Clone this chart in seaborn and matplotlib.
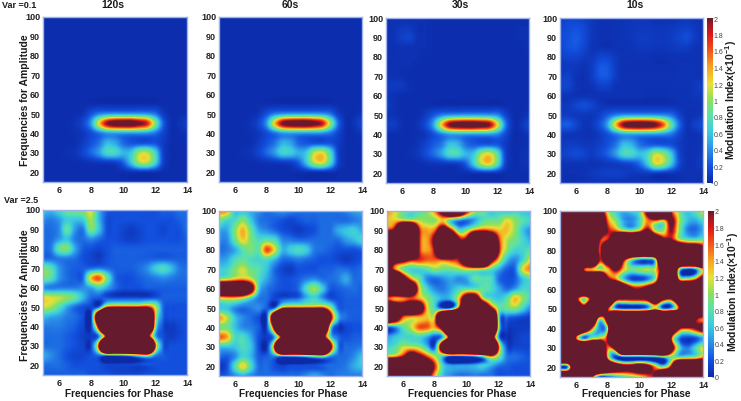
import numpy as np
import pandas as pd
import matplotlib
matplotlib.use("Agg")
import matplotlib.pyplot as plt
from matplotlib.colors import LinearSegmentedColormap
import seaborn as sns

# frequencies for phase (columns) and amplitude (rows, top first)
phase_freqs = [5, 5.5, 6, 6.5, 7, 7.5, 8, 8.5, 9, 9.5, 10, 10.5, 11, 11.5, 12, 12.5, 13, 13.5, 14]
amp_freqs = [100, 95, 90, 85, 80, 75, 70, 65, 60, 55, 50, 45, 40, 35, 30, 25, 20, 15]

x_ticks = [6, 8, 10, 12, 14]
y_ticks = [20, 30, 40, 50, 60, 70, 80, 90, 100]
cbar_ticks = [0, 0.2, 0.4, 0.6, 0.8, 1, 1.2, 1.4, 1.6, 1.8, 2]
titles = ["120s", "60s", "30s", "10s"]

var01_120s = [
    [.03, .03, .03, .03, .03, .03, .03, .03, .03, .03, .03, .03, .03, .03, .03, .03, .03, .03, .03],
    [.03, .03, .03, .03, .03, .03, .03, .03, .03, .03, .03, .03, .03, .03, .03, .03, .03, .03, .03],
    [.03, .03, .03, .03, .03, .03, .03, .03, .03, .03, .03, .03, .03, .03, .03, .03, .03, .03, .03],
    [.03, .03, .03, .03, .03, .03, .03, .03, .03, .03, .03, .03, .03, .03, .03, .03, .03, .03, .03],
    [.03, .03, .03, .03, .03, .03, .03, .03, .03, .03, .03, .03, .03, .03, .03, .03, .03, .03, .03],
    [.03, .03, .03, .03, .03, .03, .03, .03, .03, .03, .03, .03, .03, .03, .03, .03, .03, .03, .03],
    [.03, .03, .03, .03, .03, .03, .03, .03, .03, .03, .03, .03, .03, .03, .03, .03, .03, .03, .03],
    [.03, .03, .03, .03, .03, .03, .03, .03, .03, .03, .03, .03, .03, .03, .03, .03, .03, .03, .03],
    [.03, .03, .03, .03, .03, .03, .03, .03, .03, .03, .03, .03, .03, .03, .03, .03, .03, .03, .03],
    [.03, .03, .03, .03, .03, .03, .03, .03, .03, .03, .03, .03, .03, .03, .03, .03, .03, .03, .03],
    [.03, .03, .03, .03, .03, .06, .20, .35, .42, .45, .45, .45, .45, .42, .32, .10, .03, .03, .04],
    [.03, .03, .03, .03, .06, .16, .45, 1.25, 1.95, 2.2, 2.25, 2.25, 2.05, 1.8, 1.0, .28, .04, .05, .10],
    [.03, .03, .03, .03, .04, .08, .18, .32, .45, .48, .46, .45, .45, .42, .32, .15, .03, .03, .05],
    [.03, .03, .03, .03, .04, .10, .20, .32, .55, .50, .30, .22, .20, .20, .20, .10, .03, .03, .03],
    [.03, .03, .03, .04, .06, .15, .28, .45, .72, .72, .55, .62, 1.05, 1.1, .72, .14, .03, .03, .03],
    [.03, .03, .03, .03, .03, .04, .06, .08, .10, .12, .25, .60, 1.05, 1.1, .72, .15, .03, .03, .03],
    [.03, .03, .03, .03, .03, .03, .03, .03, .03, .03, .03, .05, .05, .05, .05, .03, .03, .03, .03],
    [.03, .03, .03, .03, .03, .03, .03, .03, .03, .03, .03, .03, .03, .03, .03, .03, .03, .03, .03],
]
var01_60s = [
    [.03, .03, .03, .03, .03, .03, .03, .03, .03, .03, .03, .03, .03, .03, .03, .03, .03, .03, .03],
    [.03, .03, .03, .03, .03, .03, .03, .03, .03, .03, .03, .03, .03, .03, .03, .03, .03, .03, .03],
    [.03, .03, .03, .03, .03, .03, .03, .03, .03, .03, .03, .03, .03, .03, .03, .03, .03, .03, .03],
    [.03, .03, .03, .03, .03, .03, .03, .03, .03, .03, .03, .03, .03, .03, .03, .03, .03, .03, .03],
    [.03, .03, .03, .03, .03, .03, .03, .03, .03, .03, .03, .03, .03, .03, .03, .03, .03, .03, .03],
    [.03, .03, .03, .03, .03, .03, .03, .03, .03, .03, .03, .03, .03, .03, .03, .03, .03, .03, .03],
    [.03, .03, .03, .03, .03, .03, .03, .03, .03, .03, .03, .03, .03, .03, .03, .03, .03, .03, .03],
    [.03, .03, .03, .03, .03, .03, .03, .03, .03, .03, .03, .03, .03, .03, .03, .03, .03, .03, .03],
    [.03, .03, .03, .03, .03, .03, .03, .03, .03, .03, .03, .03, .03, .03, .03, .03, .03, .03, .03],
    [.03, .03, .03, .03, .03, .03, .03, .03, .03, .03, .03, .03, .03, .03, .03, .03, .03, .03, .03],
    [.03, .03, .03, .03, .03, .06, .20, .35, .42, .45, .45, .45, .45, .42, .32, .10, .03, .03, .06],
    [.03, .03, .03, .03, .06, .16, .45, 1.3, 2.0, 2.2, 2.25, 2.25, 2.1, 1.85, 1.05, .30, .04, .06, .15],
    [.03, .03, .03, .03, .04, .08, .18, .32, .45, .48, .46, .45, .45, .42, .32, .15, .03, .03, .06],
    [.03, .03, .03, .03, .04, .10, .20, .32, .52, .48, .28, .22, .20, .20, .20, .10, .03, .03, .03],
    [.03, .03, .03, .04, .06, .15, .28, .45, .68, .65, .52, .62, 1.1, 1.2, .75, .14, .03, .03, .03],
    [.03, .03, .03, .03, .03, .04, .06, .08, .10, .12, .25, .60, 1.1, 1.2, .75, .15, .03, .03, .03],
    [.03, .03, .03, .03, .03, .03, .03, .03, .03, .03, .03, .05, .05, .05, .05, .03, .03, .03, .03],
    [.03, .03, .03, .03, .03, .03, .03, .03, .03, .03, .03, .03, .03, .03, .03, .03, .03, .03, .03],
]
var01_30s = [
    [.04, .04, .04, .04, .04, .04, .03, .03, .03, .03, .03, .03, .03, .03, .03, .03, .03, .03, .03],
    [.04, .05, .08, .08, .04, .04, .03, .03, .03, .03, .03, .03, .03, .03, .03, .03, .03, .04, .04],
    [.04, .06, .12, .14, .05, .04, .03, .03, .03, .03, .03, .03, .03, .03, .03, .03, .03, .04, .04],
    [.04, .04, .05, .05, .04, .04, .03, .03, .03, .03, .03, .03, .03, .03, .03, .03, .03, .03, .04],
    [.04, .04, .04, .04, .04, .03, .03, .03, .03, .03, .03, .03, .03, .03, .03, .03, .03, .03, .03],
    [.04, .04, .04, .04, .03, .03, .03, .03, .03, .03, .03, .03, .03, .03, .03, .03, .03, .03, .03],
    [.06, .05, .04, .03, .03, .03, .03, .03, .03, .03, .03, .03, .03, .03, .03, .03, .03, .03, .03],
    [.09, .09, .08, .04, .03, .03, .03, .03, .03, .03, .03, .03, .03, .03, .03, .03, .03, .03, .03],
    [.06, .05, .03, .03, .03, .03, .03, .03, .03, .03, .03, .03, .03, .03, .03, .03, .03, .03, .03],
    [.10, .05, .03, .03, .03, .03, .03, .03, .03, .03, .03, .03, .03, .03, .03, .03, .03, .03, .03],
    [.05, .05, .03, .03, .03, .10, .22, .36, .44, .46, .48, .48, .48, .46, .40, .16, .03, .03, .06],
    [.12, .10, .04, .03, .06, .18, .50, 1.3, 2.0, 2.2, 2.25, 2.25, 2.15, 2.0, 1.25, .38, .05, .06, .15],
    [.04, .03, .03, .03, .04, .08, .20, .34, .46, .48, .46, .45, .45, .44, .38, .18, .03, .03, .06],
    [.03, .03, .03, .03, .06, .14, .24, .34, .58, .55, .32, .24, .22, .22, .22, .10, .03, .03, .04],
    [.03, .03, .03, .04, .08, .18, .30, .48, .74, .74, .55, .60, 1.05, 1.2, .82, .16, .03, .04, .06],
    [.03, .03, .03, .03, .03, .05, .07, .08, .10, .12, .24, .62, 1.1, 1.25, .82, .16, .03, .04, .06],
    [.03, .03, .03, .03, .03, .03, .03, .03, .03, .03, .03, .05, .06, .06, .05, .03, .03, .03, .03],
    [.03, .03, .03, .03, .03, .03, .03, .03, .03, .03, .03, .03, .03, .03, .03, .03, .03, .03, .03],
]
var01_10s = [
    [.12, .14, .14, .12, .08, .05, .04, .05, .06, .07, .07, .07, .05, .05, .05, .06, .08, .06, .05],
    [.15, .18, .20, .16, .08, .05, .04, .05, .06, .07, .08, .08, .07, .07, .08, .10, .12, .08, .05],
    [.16, .20, .24, .18, .08, .05, .04, .05, .06, .07, .10, .10, .08, .08, .10, .14, .18, .10, .05],
    [.16, .20, .22, .15, .06, .05, .04, .05, .05, .06, .08, .08, .07, .07, .08, .10, .10, .06, .05],
    [.12, .14, .14, .10, .08, .14, .14, .08, .05, .05, .05, .05, .04, .04, .05, .05, .05, .05, .05],
    [.07, .08, .08, .05, .10, .22, .22, .10, .05, .04, .04, .04, .04, .04, .04, .05, .05, .05, .05],
    [.10, .12, .06, .04, .10, .22, .22, .10, .05, .05, .05, .05, .05, .05, .05, .06, .06, .06, .05],
    [.14, .14, .06, .04, .06, .12, .12, .06, .05, .05, .05, .05, .05, .05, .05, .05, .05, .08, .12],
    [.06, .06, .05, .05, .05, .05, .05, .05, .05, .05, .05, .04, .04, .04, .05, .05, .05, .07, .08],
    [.08, .08, .14, .18, .14, .07, .05, .05, .05, .05, .05, .05, .05, .05, .05, .05, .05, .05, .05],
    [.10, .10, .08, .08, .07, .12, .24, .36, .44, .46, .46, .46, .44, .40, .32, .14, .05, .05, .08],
    [.22, .24, .15, .06, .08, .20, .50, 1.3, 2.0, 2.2, 2.25, 2.2, 2.05, 1.6, .85, .30, .06, .12, .18],
    [.08, .07, .06, .05, .05, .10, .20, .34, .46, .48, .46, .45, .44, .40, .32, .15, .05, .05, .08],
    [.08, .10, .10, .08, .08, .12, .20, .32, .56, .52, .32, .24, .22, .20, .18, .10, .05, .05, .06],
    [.12, .14, .17, .14, .10, .16, .26, .45, .72, .72, .58, .72, 1.1, 1.0, .62, .16, .05, .05, .08],
    [.06, .06, .06, .06, .05, .06, .08, .10, .14, .18, .30, .62, 1.15, 1.05, .62, .18, .05, .06, .10],
    [.04, .04, .04, .05, .08, .10, .12, .12, .10, .08, .08, .10, .10, .08, .07, .05, .05, .05, .05],
    [.06, .03, .04, .04, .05, .06, .05, .05, .05, .05, .05, .05, .05, .05, .04, .04, .05, .05, .05],
]
var25_120s = [
    [.60, .55, .70, .90, .95, 1.0, 1.2, .55, .25, .20, .20, .20, .20, .20, .20, .25, .25, .30, .30],
    [.40, .35, .45, .65, .60, .65, 1.05, .55, .20, .20, .20, .20, .20, .20, .20, .20, .20, .25, .30],
    [.30, .30, .40, .85, .45, .35, .95, .60, .20, .20, .15, .10, .15, .20, .20, .15, .20, .20, .30],
    [.30, .30, .45, .60, .35, .30, .40, .30, .20, .20, .15, .12, .15, .20, .20, .20, .20, .20, .25],
    [.30, .35, .85, .95, .50, .25, .20, .15, .20, .25, .25, .25, .25, .25, .25, .25, .25, .25, .25],
    [.30, .30, .35, .35, .30, .20, .15, .10, .20, .25, .25, .25, .25, .25, .25, .25, .25, .25, .25],
    [.95, .80, .45, .30, .25, .25, .30, .35, .30, .25, .25, .25, .30, .40, .62, .75, .58, .35, .30],
    [.95, .80, .45, .30, .25, .30, 1.3, 1.6, .90, .30, .20, .20, .25, .30, .35, .40, .35, .30, .30],
    [.40, .35, .35, .35, .35, .40, .50, .70, .50, .30, .20, .20, .20, .25, .25, .25, .25, .25, .25],
    [1.2, 1.15, 1.1, 1.0, .85, .55, .30, .25, .20, .15, .15, .15, .15, .15, .20, .25, .25, .25, .25],
    [1.15, 1.05, .80, .50, .30, .20, .15, .30, 1.7, 1.9, 1.9, 1.9, 1.9, 1.9, 1.2, .30, .20, .20, .20],
    [.60, .50, .45, .35, .30, .20, .10, 4.0, 9.0, 9.0, 9.0, 9.0, 9.0, 7.0, 1.5, .30, .20, .20, .20],
    [.35, .35, .35, .30, .25, .15, .10, 2.5, 9.0, 9.0, 9.0, 9.0, 9.0, 7.0, 1.2, .20, .10, .15, .20],
    [.30, .30, .30, .25, .20, .12, .10, .40, 2.6, 9.0, 9.0, 9.0, 9.0, 3.0, .60, .20, .10, .15, .20],
    [.30, .30, .30, .25, .20, .15, .15, 2.0, 9.0, 9.0, 9.0, 9.0, 9.0, 9.0, 2.0, .30, .20, .20, .20],
    [.50, .40, .30, .20, .15, .15, .20, .30, .35, .40, .45, .60, .90, 1.1, .40, .25, .20, .20, .20],
    [.30, .30, .30, .25, .20, .20, .20, .20, .15, .15, .15, .15, .15, .20, .20, .20, .20, .20, .20],
    [.25, .25, .25, .25, .25, .25, .20, .20, .20, .15, .15, .15, .15, .20, .20, .20, .20, .20, .20],
]
var25_60s = [
    [1.5, 1.4, .60, .60, .50, .40, .30, .35, .40, .35, .30, .30, .30, .30, .30, .30, .35, .45, .50],
    [.90, .70, .75, 1.0, .65, .35, .30, .25, .20, .15, .20, .25, .25, .30, .30, .30, .30, .35, .40],
    [.50, .50, .95, 1.35, .90, .50, .40, .30, .20, .15, .10, .15, .20, .30, .30, .50, .60, .65, .50],
    [.40, .40, .85, 1.25, .95, .75, .85, .75, .40, .35, .30, .30, .30, .30, .30, .30, .45, .55, .70],
    [.30, .35, .50, .80, .95, .85, 1.65, 1.2, .55, .65, .75, .65, .35, .30, .25, .20, .20, .20, .25],
    [.45, .50, .75, .85, .75, .70, .75, .55, .30, .30, .35, .30, .25, .20, .20, .15, .10, .15, .20],
    [.65, .70, .95, 1.15, .90, .80, .60, .30, .15, .10, .20, .20, .20, .25, .25, .30, .30, .25, .30],
    [1.0, 1.1, 1.3, 1.4, 1.2, .75, .50, .30, .20, .20, .25, .35, .40, .30, .30, .35, .50, .30, .30],
    [4.0, 4.0, 4.0, 4.0, 2.6, .70, .35, .25, .20, .20, .30, .75, 1.05, .65, .25, .25, .30, .30, .25],
    [1.2, 1.3, 1.3, 1.1, .70, .35, .30, .15, .20, .25, .30, .55, .70, .45, .20, .20, .25, .25, .25],
    [.60, .60, .40, .30, .35, .40, .25, .30, 1.7, 1.9, 1.9, 1.9, 1.9, 1.9, 1.1, .30, .25, .25, .25],
    [1.45, 1.1, .60, .40, .30, .20, .15, 4.0, 9.0, 9.0, 9.0, 9.0, 9.0, 8.0, 2.5, .60, .30, .25, .25],
    [.90, .90, .60, .40, .35, .25, .15, 2.5, 9.0, 9.0, 9.0, 9.0, 9.0, 6.0, 1.0, .10, .15, .20, .20],
    [1.6, 1.4, .75, .75, .50, .20, .10, .50, 2.8, 9.0, 9.0, 9.0, 9.0, 3.2, .80, .30, .20, .25, .25],
    [.60, .60, .60, .75, .60, .20, .05, 2.0, 9.0, 9.0, 9.0, 9.0, 9.0, 9.0, 2.6, .40, .30, .30, .35],
    [.30, .25, .40, .70, .55, .25, .25, .35, .35, .40, .45, .60, .80, .90, .40, .30, .30, .40, .60],
    [.05, .20, .75, 1.25, .75, .30, .30, .20, .15, .20, .20, .20, .20, .25, .30, .30, .35, .50, .60],
    [.20, .25, .40, .50, .40, .30, .30, .30, .30, .30, .30, .40, .50, .40, .30, .35, .35, .35, .35],
]
var25_30s = [
    [1.5, 1.2, .90, .70, .80, 1.0, 1.5, 2.6, 4.0, 3.5, 2.0, 1.1, .90, .60, .70, .60, .70, .60, .55],
    [1.3, 1.3, 1.4, 1.3, 1.1, 1.0, 1.0, 1.3, .70, .40, .30, .50, .80, .90, .90, 1.2, 1.0, .80, .70],
    [1.9, 2.5, 6.0, 6.0, 2.0, 1.4, 1.6, 3.0, 2.0, .80, 1.0, 1.6, 1.8, 1.6, 1.3, 1.3, 1.0, .60, .40],
    [6.0, 6.0, 6.0, 6.0, 2.0, 1.4, 2.5, 6.0, 5.0, 2.2, 2.6, 6.0, 6.0, 4.5, 1.8, 1.1, .90, .70, .50],
    [6.0, 6.0, 6.0, 6.0, 2.0, 1.4, 2.2, 6.0, 5.0, 2.2, 6.0, 6.0, 6.0, 6.0, 2.0, 1.0, .70, .70, .80],
    [4.0, 3.0, 2.6, 2.1, 1.8, 1.6, 1.6, 1.8, 1.9, 2.0, 4.0, 6.0, 6.0, 2.8, 1.3, .60, .40, .70, 1.2],
    [3.0, 1.6, .90, .70, .70, .80, 1.0, .90, .90, 1.0, 1.2, 1.2, 1.1, .80, .50, .25, .30, 1.2, 1.5],
    [6.0, 6.0, 3.0, 1.5, .90, .40, .30, .40, .50, .40, .50, .85, .80, .75, .30, .20, .25, .60, .80],
    [5.0, 5.0, 5.0, 4.0, 1.4, .70, .40, .35, .50, .70, .80, .80, .85, .75, .50, .30, .45, .70, .70],
    [1.7, 1.4, 1.5, 1.7, 1.4, 1.0, .70, .50, .60, 1.3, 3.0, 3.0, 1.2, .75, .60, .80, 1.3, 1.0, .70],
    [4.5, 3.5, 3.0, 3.5, 3.0, 1.3, .70, .20, .30, 2.0, 6.0, 6.0, 4.5, 2.2, .90, .90, 1.0, .70, .40],
    [4.0, 3.0, 1.6, 1.3, 1.3, 1.3, 1.5, 6.0, 9.0, 9.0, 9.0, 9.0, 9.0, 7.0, .80, .30, .20, .15, .10],
    [.20, .40, .80, 1.1, 1.6, 1.6, 1.4, 3.0, 9.0, 9.0, 9.0, 9.0, 9.0, 7.0, .90, .15, .10, .10, .10],
    [.45, .60, .70, .70, .70, .50, .20, .60, 3.0, 9.0, 9.0, 9.0, 9.0, 3.5, .40, .05, .10, .15, .15],
    [.70, .80, 1.1, 1.1, 1.0, .60, .30, 3.5, 9.0, 9.0, 9.0, 9.0, 9.0, 7.0, 1.6, .20, .15, .15, .15],
    [1.4, 1.5, 2.0, 3.0, 2.5, 1.7, 1.1, .60, .10, .10, .20, .40, .80, 1.5, .90, .35, .30, .25, .20],
    [6.0, 6.0, 6.0, 6.0, 6.0, 3.5, 1.8, .70, .50, .50, .50, .55, .65, .50, .30, .25, .20, .20, .20],
    [3.0, 4.0, 6.0, 6.0, 3.0, 2.5, 1.3, .60, .40, .30, .30, .35, .30, .30, .20, .20, .20, .20, .20],
]
var25_10s = [
    [6.0, 6.0, 6.0, 6.0, 6.0, 3.0, 1.2, .70, .50, .60, .90, 2.5, 6.0, 6.0, 2.0, 1.0, .60, .80, 1.2],
    [6.0, 6.0, 6.0, 6.0, 6.0, 4.0, 1.6, 1.0, .50, .40, .70, 1.5, 1.6, 1.3, 2.2, 1.1, .60, .50, .70],
    [6.0, 6.0, 6.0, 6.0, 6.0, 3.5, 2.0, 1.6, 1.2, 1.0, 1.4, 2.3, 1.1, 1.0, 2.0, 1.0, .40, .30, .50],
    [6.0, 6.0, 6.0, 6.0, 6.0, 2.0, 2.0, 4.0, 6.0, 6.0, 6.0, 6.0, 4.0, 2.5, 2.2, 1.3, 1.0, .90, 1.0],
    [6.0, 6.0, 6.0, 6.0, 6.0, 1.7, 6.0, 6.0, 6.0, 6.0, 6.0, 6.0, 6.0, 6.0, 6.0, 5.0, 4.0, 4.0, 3.0],
    [6.0, 6.0, 6.0, 6.0, 6.0, 1.9, 3.5, 5.0, 2.2, .90, .40, .35, 1.0, 6.0, 6.0, 6.0, 6.0, 6.0, 6.0],
    [6.0, 6.0, 6.0, 1.9, 1.4, 1.1, 1.3, 2.2, 1.3, .90, 1.0, 1.1, 1.2, 3.0, 6.0, 1.0, .10, .30, 1.4],
    [6.0, 6.0, 6.0, 6.0, 6.0, 6.0, 2.5, 1.6, .70, .20, .15, .35, 1.1, 4.0, 6.0, 1.6, 1.2, 1.6, 2.8],
    [6.0, 6.0, 6.0, 6.0, 6.0, 6.0, 6.0, 6.0, 3.5, 2.2, 2.0, 2.5, 3.5, 5.0, 6.0, 6.0, 6.0, 6.0, 6.0],
    [6.0, 6.0, 2.5, .90, 2.5, 6.0, 6.0, 2.5, 2.0, 2.0, 2.0, 2.2, 3.5, 2.2, 2.0, 4.0, 6.0, 6.0, 6.0],
    [6.0, 6.0, 6.0, 3.0, 6.0, 6.0, 2.0, .60, .30, .30, .30, .60, 1.4, .40, .60, 2.0, 6.0, 6.0, 6.0],
    [6.0, 6.0, 6.0, 6.0, 5.0, 1.2, 3.0, 9.0, 9.0, 9.0, 9.0, 9.0, 9.0, 9.0, 9.0, 6.0, 6.0, 2.5, 1.6],
    [6.0, 6.0, 6.0, 4.0, 1.8, .40, 1.3, 9.0, 9.0, 9.0, 9.0, 9.0, 9.0, 9.0, 5.0, 2.2, 1.8, 2.0, 2.5],
    [6.0, 6.0, 1.8, .30, .90, 1.2, 2.2, 9.0, 9.0, 9.0, 9.0, 9.0, 9.0, 9.0, 2.0, .40, .15, .20, .50],
    [6.0, 6.0, 6.0, 6.0, 6.0, 5.0, 1.6, 3.0, 9.0, 9.0, 9.0, 9.0, 9.0, 9.0, 3.0, .80, .35, .70, 1.2],
    [6.0, 6.0, 6.0, 6.0, 6.0, 6.0, 1.5, .10, .10, .10, .10, .20, .30, .55, .90, .90, 1.0, 1.1, 1.5],
    [.10, .50, 5.0, 6.0, 6.0, 6.0, 4.0, 3.0, 2.5, 2.5, 3.0, 2.5, 1.5, 1.0, 2.2, 6.0, 6.0, 6.0, 6.0],
    [6.0, 6.0, 6.0, 6.0, 2.2, .10, .20, .50, .80, 1.0, 1.2, 1.6, 2.4, 6.0, 6.0, 6.0, 6.0, 6.0, 6.0],
]

top_row = [var01_120s, var01_60s, var01_30s, var01_10s]
bottom_row = [var25_120s, var25_60s, var25_30s, var25_10s]

sns.set_theme(style="white")
plt.rcParams["font.family"] = ["Liberation Sans", "DejaVu Sans"]
plt.rcParams["font.weight"] = "bold"
plt.rcParams["mathtext.fontset"] = "custom"
plt.rcParams["mathtext.bf"] = "Liberation Sans:bold"

cmap = LinearSegmentedColormap.from_list("mi", [
    (0.00, "#0c2aa8"), (0.10, "#1250de"), (0.20, "#2a8ce8"), (0.30, "#38c8e4"),
    (0.40, "#58e0b0"), (0.50, "#88e060"), (0.60, "#e8e038"), (0.70, "#f8a420"),
    (0.80, "#f05818"), (0.90, "#dc1818"), (0.97, "#981824"), (1.00, "#661a2e"),
])

W, H = 741, 402
fig = plt.figure(figsize=(W / 100, H / 100), dpi=100, facecolor="white")


def px_axes(x0, y0, x1, y1):
    return fig.add_axes([x0 / W, 1 - y1 / H, (x1 - x0) / W, (y1 - y0) / H])


def draw_panel(grid, box, cbar_box=None):
    ax = px_axes(*box)
    df = pd.DataFrame(grid, index=amp_freqs, columns=phase_freqs)
    cbar_ax = px_axes(*cbar_box) if cbar_box else None
    sns.heatmap(df, ax=ax, cmap=cmap, vmin=0, vmax=2, cbar=cbar_box is not None, cbar_ax=cbar_ax,
                cbar_kws={"ticks": cbar_ticks} if cbar_box else None)
    # smooth the cells the way the original surface plot does
    ax.imshow(df.values, cmap=cmap, vmin=0, vmax=2, aspect="auto", interpolation="catrom",
              interpolation_stage="data", extent=(0, len(phase_freqs), len(amp_freqs), 0), zorder=2)
    # axes run from cell centre to cell centre
    ax.set_xlim(0.5, len(phase_freqs) - 0.5)
    ax.set_ylim(len(amp_freqs) - 0.5, 0.5)
    ax.set_xticks([phase_freqs.index(v) + 0.5 for v in x_ticks])
    ax.set_xticklabels(x_ticks, rotation=0)
    ax.set_yticks([(100 - v) / 5 + 0.5 for v in y_ticks])
    ax.set_yticklabels(y_ticks, rotation=0)
    ax.tick_params(length=0, pad=2, labelsize=6.5, labelcolor="#222222")
    for s in ax.spines.values():
        s.set_visible(True)
        s.set_color("#9db2e6")
        s.set_linewidth(1)
        s.set_zorder(5)
    if cbar_ax is not None:
        cbar_ax.tick_params(length=1.5, width=0.4, direction="in", pad=0.5, labelsize=5, labelcolor="#444444", color="#555555")
        cbar_ax.set_yticklabels(["0", "0.2", "0.4", "0.6", "0.8", "1", "1.2", "1.4", "1.6", "1.8", "2"])
        for lab in cbar_ax.get_yticklabels():
            lab.set_fontweight("normal")
    return ax


top_boxes = [(43, 18, 187, 183), (219, 18, 362, 183), (386, 19, 529, 184), (560, 19, 703, 184)]
bottom_boxes = [(43, 211, 187, 376), (219, 212, 362, 377), (387, 212, 530, 377), (560, 212, 703, 378)]
top_cbar = (707, 19, 713, 184)
bottom_cbar = (708, 212, 714, 378)

for i in range(4):
    draw_panel(top_row[i], top_boxes[i], top_cbar if i == 3 else None)
    draw_panel(bottom_row[i], bottom_boxes[i], bottom_cbar if i == 3 else None)


def px_text(x, y, s, **kw):
    fig.text(x / W, 1 - y / H, s, ha="center", va="center", color="#1a1a1a", fontweight="bold", **kw)


for x, t in zip([113, 290, 460, 635], titles):
    px_text(x, 5, t, fontsize=7.5)
px_text(19, 6, "Var =0.1", fontsize=6.5)
px_text(21, 201, "Var =2.5", fontsize=6.5)
for x in [119, 293, 462, 636]:
    px_text(x, 394, "Frequencies for Phase", fontsize=7.3)
px_text(25, 100, "Frequencies for Amplitude", fontsize=7.5, rotation=90)
px_text(25, 295, "Frequencies for Amplitude", fontsize=7.5, rotation=90)
mi_label = r"Modulation Index(×10$\mathbf{^{-1}}$)"
px_text(731, 100, mi_label, fontsize=7.5, rotation=90)
px_text(733, 292, mi_label, fontsize=7.5, rotation=90)

fig.savefig("out.png", dpi=100)
